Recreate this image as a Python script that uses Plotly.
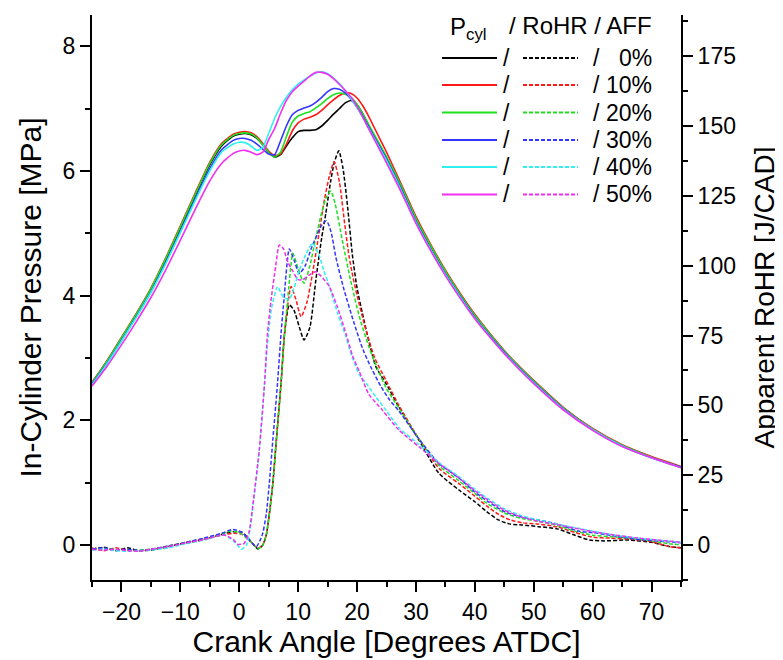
import plotly.graph_objects as go

# ---------------- data ----------------
AFF_LABELS = ["0%", "10%", "20%", "30%", "40%", "50%"]
COLORS = ["#000000", "#ff1a1a", "#1fe01f", "#3535ff", "#2ff0f0", "#f02ff0"]

P_X = [-25, -22.5, -20, -17.5, -15, -12.5, -10, -7.5, -5, -3, -1,
       0, 1, 2, 3, 4, 5, 6, 7, 8, 9, 10, 11, 12, 13, 14, 15, 16, 17, 18, 19, 20, 21, 22, 23, 24, 25,
       27.5, 30, 32.5, 35, 37.5, 40, 42.5, 45, 47.5, 50, 55, 60, 65, 70, 75]

P_0 = [2.60, 2.94, 3.31, 3.69, 4.10, 4.57, 5.08, 5.60, 6.10, 6.40, 6.56,
       6.59, 6.60, 6.58, 6.52, 6.42, 6.30, 6.22, 6.26, 6.40, 6.53, 6.63, 6.65, 6.65, 6.66, 6.72, 6.81,
       6.91, 7.00, 7.09, 7.13, 7.06, 6.91, 6.72, 6.53, 6.37, 6.20,
       5.72, 5.21, 4.77, 4.37, 4.01, 3.67, 3.38, 3.10, 2.85, 2.62, 2.20, 1.86, 1.60, 1.41, 1.25]
P_10 = [2.61, 2.95, 3.33, 3.71, 4.12, 4.60, 5.12, 5.64, 6.14, 6.44, 6.59,
        6.62, 6.63, 6.61, 6.55, 6.44, 6.32, 6.25, 6.27, 6.43, 6.64, 6.77, 6.83, 6.86, 6.90, 6.97, 7.06,
        7.14, 7.21, 7.25, 7.24, 7.17, 7.04, 6.87, 6.68, 6.49, 6.30,
        5.79, 5.27, 4.82, 4.41, 4.04, 3.70, 3.40, 3.12, 2.87, 2.64, 2.21, 1.87, 1.61, 1.42, 1.26]
P_20 = [2.60, 2.94, 3.32, 3.70, 4.11, 4.59, 5.10, 5.62, 6.12, 6.42, 6.57,
        6.60, 6.61, 6.59, 6.53, 6.42, 6.30, 6.22, 6.30, 6.55, 6.78, 6.88, 6.92, 6.95, 7.01, 7.08, 7.16,
        7.22, 7.25, 7.23, 7.18, 7.07, 6.91, 6.74, 6.57, 6.40, 6.23,
        5.76, 5.24, 4.80, 4.39, 4.02, 3.68, 3.39, 3.11, 2.86, 2.63, 2.20, 1.86, 1.60, 1.41, 1.25]
P_30 = [2.58, 2.91, 3.28, 3.66, 4.06, 4.53, 5.03, 5.55, 6.04, 6.34, 6.49,
        6.52, 6.52, 6.49, 6.43, 6.35, 6.27, 6.26, 6.48, 6.72, 6.90, 6.97, 7.01, 7.04, 7.10, 7.18, 7.27,
        7.32, 7.31, 7.25, 7.15, 7.02, 6.87, 6.70, 6.53, 6.36, 6.19,
        5.71, 5.19, 4.75, 4.35, 3.99, 3.65, 3.36, 3.09, 2.84, 2.61, 2.19, 1.85, 1.59, 1.40, 1.25]
P_40 = [2.57, 2.90, 3.27, 3.65, 4.05, 4.51, 5.01, 5.52, 6.00, 6.30, 6.43,
        6.46, 6.45, 6.40, 6.33, 6.38, 6.60, 6.84, 7.03, 7.18, 7.30, 7.39, 7.46, 7.52, 7.57, 7.59, 7.56,
        7.49, 7.40, 7.29, 7.16, 7.01, 6.85, 6.68, 6.51, 6.34, 6.17,
        5.69, 5.18, 4.74, 4.34, 3.98, 3.64, 3.35, 3.08, 2.83, 2.60, 2.18, 1.85, 1.59, 1.40, 1.24]
P_50 = [2.55, 2.86, 3.21, 3.58, 3.97, 4.41, 4.89, 5.38, 5.84, 6.12, 6.28,
        6.32, 6.33, 6.30, 6.26, 6.30, 6.50, 6.68, 6.92, 7.13, 7.27, 7.36, 7.44, 7.52, 7.58, 7.58, 7.55,
        7.48, 7.39, 7.29, 7.18, 7.03, 6.86, 6.67, 6.49, 6.31, 6.13,
        5.66, 5.16, 4.72, 4.32, 3.96, 3.63, 3.34, 3.07, 2.82, 2.59, 2.17, 1.84, 1.58, 1.40, 1.24]

R0_X = [-25, -23, -21, -19, -17, -15, -12, -9, -6, -3, -1, 0.5, 1.5, 2.5, 3.2, 4, 4.6, 5.1, 5.7, 6.3,
        7.1, 7.7, 8.5, 9.3, 10.2, 11, 12, 13, 14, 14.7, 15.5, 16.1, 16.9, 17.6, 18.4, 19.2, 20, 20.9,
        22, 23.2, 24.9, 27.1, 30.5, 33.9, 37.3, 40, 42, 44, 46, 48, 50.8, 54, 57, 59.5, 62, 66, 70, 73, 75]
R0 = [-1.5, -0.8, -2.0, -1.0, -2.0, -1.8, -0.5, 0.8, 2.0, 3.8, 4.8, 4.5, 2.5, 0.0, -1.4, 0.0, 3.7, 11, 22,
      37.6, 58, 75.8, 86, 84, 78, 73.4, 78, 94.8, 110, 118.7, 130, 136.6, 141.1, 135, 121, 104, 92, 83,
      73, 63.8, 57.9, 49.5, 37.6, 25.7, 19.7, 15.5, 12, 9, 7.5, 7.2, 6.6, 5.8, 3.5, 1.8, 1.5, 1.8, 1.0, -0.5, -1.0]

R10_X = [-25, -23, -21, -19, -17, -15, -12, -9, -6, -3, -1, 0.5, 1.5, 2.5, 3.2, 4, 4.6, 5.1, 5.7, 6.3,
         7.1, 7.7, 8.8, 9.6, 10.5, 11.5, 12.5, 13.5, 14.5, 15.3, 16.1, 17, 17.9, 18.65, 19.3, 20.05,
         21.5, 23, 24.9, 27.1, 30.5, 33.9, 37.3, 40, 42, 44, 46, 48, 50.8, 54, 57, 60, 63, 66, 70, 73, 75]
R10 = [-1.0, -2.0, -1.0, -1.8, -2.0, -1.5, -0.5, 1.0, 2.2, 3.5, 4.2, 3.8, 2.2, 0.0, -1.2, 0.2, 3.8, 11, 22,
       37.6, 58, 76, 92.5, 88, 81.7, 87, 98, 111, 124, 132, 137.2, 130, 115, 103.2, 96, 88.9,
       77, 67, 59, 50, 38, 27.5, 22, 17.5, 14, 11, 9, 8, 7.5, 6.5, 4.5, 2.8, 2.5, 2.2, 1.2, -0.5, -1.0]

R20_X = [-25, -23, -21, -19, -17, -15, -12, -9, -6, -3, -1.5, 0, 1.5, 2.5, 3.1, 4, 4.6, 5.1, 5.7, 6.3,
         7.1, 7.7, 8.4, 9.1, 10, 11, 12, 13, 14, 14.8, 15.55, 16.3, 17.5, 18.9, 20.4, 22, 23.5, 25,
         27.1, 30.5, 33.9, 37.3, 40, 42, 45, 48, 50.8, 54, 57, 60, 63, 66, 70, 73, 75]
R20 = [-1.5, -1.2, -1.5, -2.0, -1.8, -1.5, -0.3, 1.0, 2.3, 4.0, 5.0, 4.5, 2.0, 0.0, -1.4, 0.0, 3.7, 11, 22,
       37.6, 58, 75.8, 92, 104.4, 99, 93.7, 100, 110, 119, 124.5, 126.7, 122, 109, 94.8, 81.7, 71, 63, 56,
       49, 38, 28.5, 23, 18.5, 15, 11.5, 9.5, 8.5, 7, 5, 3.5, 3, 2.5, 1.5, 0.5, 0]

R30_X = [-25, -23, -21, -19, -17, -15, -12, -9, -6, -3, -1.1, 0.5, 1.8, 2.9, 3.5, 4.0, 4.6, 5.1, 5.7, 6.5,
         7.1, 7.6, 8.5, 9.3, 10.2, 11.2, 12.2, 13.2, 14, 14.8, 15.6, 16.4, 17.8, 19.5, 21, 22.5, 24, 25.5,
         27.1, 30.5, 33.9, 37.3, 40, 42.3, 45, 48, 50.8, 54, 57.6, 60, 63, 67.7, 71, 75]
R30 = [-1.5, -1.0, -1.8, -1.5, -2.0, -1.5, -0.3, 1.0, 2.5, 4.2, 5.6, 4.5, 1.5, -0.6, 1.5, 4.3, 11.3, 22, 37.6,
       58, 75.8, 88, 106, 102, 97.2, 100, 106, 111, 114.5, 116.1, 112, 103, 91.3, 79.4, 70, 63, 57, 52,
       48, 38, 29.2, 24, 19, 15.5, 12, 10, 9, 7.5, 5, 4.5, 3.5, 2, 1.5, 0.8]

R40_X = [-25, -23, -21, -19, -17, -15, -12, -9, -6, -2.6, -1, 0.4, 1.2, 1.7, 2.4, 3.4, 4.3, 4.8, 5.5, 6.5,
         7.4, 8.5, 9.3, 10.2, 11.3, 12.45, 13.5, 14.4, 15.3, 16.7, 18.1, 19.2, 20.4, 21.5, 23.2, 25,
         27.1, 30.5, 33.9, 37.3, 40, 42.3, 45, 48, 50.8, 54, 57.6, 60, 64, 67.7, 71, 75]
R40 = [-1.8, -1.5, -2.0, -2.2, -2.0, -1.8, -1.0, 0.5, 1.8, 3.6, 1.5, -1.5, 0.0, 4.0, 15, 34, 58, 72, 85, 92.5,
       89, 88, 92, 98.4, 104, 108, 104, 98, 92.5, 83, 74.6, 67, 61, 58, 53, 48,
       42, 36, 29.5, 24.5, 20, 16.5, 13, 10.5, 9, 7.5, 6, 5, 3.5, 2.5, 1.8, 1.0]

R50_X = [-25, -23, -21, -19, -17, -15, -12, -9, -6, -2.6, -1, -0.25, 0.8, 1.7, 2.4, 3.4, 4.3, 4.8, 5.4, 6.2,
         6.8, 7.5, 8.3, 9.1, 10, 10.8, 11.8, 13, 14.2, 15.3, 16.7, 18.1, 19.2, 20.4, 22, 24.3,
         27.1, 30.5, 33.9, 37.3, 40, 42.3, 45, 48, 50.8, 54, 57.6, 60, 64, 67.7, 71, 75]
R50 = [-1.5, -1.8, -1.5, -2.0, -2.2, -1.5, -0.5, 0.8, 2.0, 3.6, 2.0, 0.3, 0.5, 5.0, 16, 34, 58, 75.8, 87.7, 100,
       107.4, 106, 101, 98, 95, 95, 96.5, 97.8, 95.5, 92.5, 85, 75.8, 68, 62, 54, 48.3,
       41.2, 35.2, 29.2, 24, 19.5, 16, 12.5, 10, 8.5, 7.3, 5.8, 4.8, 3.5, 2.5, 1.8, 1.0]

PRESSURES = [P_0, P_10, P_20, P_30, P_40, P_50]
ROHR = [(R0_X, R0), (R10_X, R10), (R20_X, R20), (R30_X, R30), (R40_X, R40), (R50_X, R50)]

for p in PRESSURES:
    assert len(p) == len(P_X)
for rx, ry in ROHR:
    assert len(rx) == len(ry), (len(rx), len(ry))

# ---------------- figure ----------------
FONT = "Liberation Sans, Arial, sans-serif"
OFF = 8                      # page body margin in the browser
W, H = 783 - OFF, 660 - OFF  # figure size
# plot area in screen pixels
SL, SR, ST, SB = 92, 681, 15, 580
L, R, T, B = SL - OFF, SR - OFF, ST - OFF, SB - OFF

fig = go.Figure()

for i in range(6):
    fig.add_trace(go.Scatter(
        x=P_X, y=PRESSURES[i], mode="lines", yaxis="y",
        line=dict(color=COLORS[i], width=1.6, shape="spline", smoothing=0.6),
        name="P_cyl " + AFF_LABELS[i], showlegend=False))
for i in range(6):
    rx, ry = ROHR[i]
    fig.add_trace(go.Scatter(
        x=rx, y=ry, mode="lines", yaxis="y2",
        line=dict(color=COLORS[i], width=1.5, shape="spline", smoothing=0.6, dash="4px,2px"),
        name="RoHR " + AFF_LABELS[i], showlegend=False))


def px_x(sx):
    return (sx - SL) / (SR - SL)


def px_y(sy):
    return (SB - sy) / (SB - ST)


shapes = []
annotations = []
rows = [58, 85, 112.5, 140, 167, 194.5]
for i, sy in enumerate(rows):
    shapes.append(dict(type="line", xref="paper", yref="paper",
                       x0=px_x(442), x1=px_x(497), y0=px_y(sy), y1=px_y(sy),
                       line=dict(color=COLORS[i], width=2)))
    shapes.append(dict(type="line", xref="paper", yref="paper",
                       x0=px_x(523), x1=px_x(578), y0=px_y(sy), y1=px_y(sy),
                       line=dict(color=COLORS[i], width=2, dash="4px,2px")))
    annotations.append(dict(x=px_x(506), y=px_y(sy), xref="paper", yref="paper", text="/",
                            showarrow=False, xanchor="center", yanchor="middle",
                            font=dict(family=FONT, size=23, color="black")))
    annotations.append(dict(x=px_x(596), y=px_y(sy), xref="paper", yref="paper", text="/",
                            showarrow=False, xanchor="center", yanchor="middle",
                            font=dict(family=FONT, size=23, color="black")))
    annotations.append(dict(x=px_x(654), y=px_y(sy), xref="paper", yref="paper", text=AFF_LABELS[i],
                            showarrow=False, xanchor="right", yanchor="middle",
                            font=dict(family=FONT, size=23, color="black")))

annotations.append(dict(x=px_x(448), y=px_y(28), xref="paper", yref="paper",
                        text="P<sub>cyl</sub>", showarrow=False, xanchor="left", yanchor="middle",
                        font=dict(family=FONT, size=24, color="black")))
annotations.append(dict(x=px_x(654), y=px_y(26), xref="paper", yref="paper",
                        text="/ RoHR / AFF", showarrow=False, xanchor="right", yanchor="middle",
                        font=dict(family=FONT, size=24, color="black")))

axis_common = dict(showgrid=False, zeroline=False, showline=True, linecolor="black", linewidth=2,
                   ticks="outside", ticklen=10, tickwidth=1.8, tickcolor="black", automargin=False,
                   tickfont=dict(family=FONT, size=23, color="black"))

fig.update_layout(
    width=W, height=H,
    margin=dict(l=L, r=W - R, t=T, b=H - B, autoexpand=False),
    paper_bgcolor="white", plot_bgcolor="white",
    font=dict(family=FONT, color="black"),
    showlegend=False,
    xaxis=dict(range=[-25, 75], dtick=10, tick0=0,
               minor=dict(dtick=5, tick0=0, ticks="outside", ticklen=5, tickwidth=1.5, tickcolor="black"),
               title=dict(text="Crank Angle [Degrees ATDC]", font=dict(family=FONT, size=30), standoff=2),
               **axis_common),
    yaxis=dict(range=[-0.56, 8.5], dtick=2, tick0=0,
               minor=dict(dtick=1, tick0=0, ticks="outside", ticklen=5, tickwidth=1.5, tickcolor="black"),
               title=dict(text="In-Cylinder Pressure [MPa]", font=dict(family=FONT, size=30), standoff=12),
               **axis_common),
    yaxis2=dict(range=[-12.5, 189.7], dtick=25, tick0=0, overlaying="y", side="right",
                minor=dict(dtick=12.5, tick0=0, ticks="outside", ticklen=5, tickwidth=1.5, tickcolor="black"),
                title=dict(text="Apparent RoHR [J/CAD]", font=dict(family=FONT, size=28), standoff=19),
                **axis_common),
    shapes=shapes,
    annotations=annotations,
)

fig.write_html("out.html")
